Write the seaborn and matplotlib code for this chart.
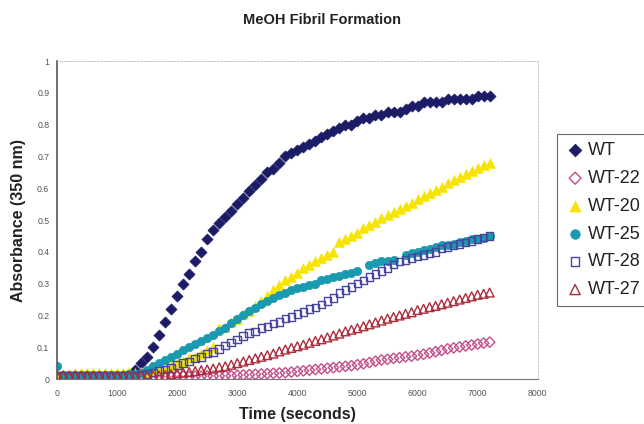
import matplotlib
matplotlib.use("Agg")
import matplotlib.pyplot as plt
import numpy as np
import pandas as pd
import seaborn as sns

# sampling times (s), one reading every 100 s
time = [0, 100, 200, 300, 400, 500, 600, 700, 800, 900,
        1000, 1100, 1200, 1300, 1400, 1500, 1600, 1700, 1800, 1900,
        2000, 2100, 2200, 2300, 2400, 2500, 2600, 2700, 2800, 2900,
        3000, 3100, 3200, 3300, 3400, 3500, 3600, 3700, 3800, 3900,
        4000, 4100, 4200, 4300, 4400, 4500, 4600, 4700, 4800, 4900,
        5000, 5100, 5200, 5300, 5400, 5500, 5600, 5700, 5800, 5900,
        6000, 6100, 6200, 6300, 6400, 6500, 6600, 6700, 6800, 6900,
        7000, 7100, 7200]

wt = [0.010, 0.006, 0.004, 0.005, 0.004, 0.003, 0.005, 0.004, 0.005, 0.006,
      0.007, 0.010, 0.015, 0.030, 0.050, 0.070, 0.100, 0.140, 0.180, 0.220,
      0.260, 0.300, 0.330, 0.370, 0.400, 0.440, 0.470, 0.490, 0.510, 0.530,
      0.550, 0.570, 0.590, 0.610, 0.630, 0.650, 0.660, 0.680, 0.700, 0.710,
      0.720, 0.730, 0.740, 0.750, 0.760, 0.770, 0.780, 0.790, 0.800, 0.800,
      0.810, 0.820, 0.820, 0.830, 0.830, 0.840, 0.840, 0.840, 0.850, 0.860,
      0.860, 0.870, 0.870, 0.870, 0.870, 0.880, 0.880, 0.880, 0.880, 0.880,
      0.890, 0.890, 0.890]

wt22 = [0.008, 0.007, 0.006, 0.007, 0.006, 0.005, 0.006, 0.007, 0.006, 0.005,
        0.006, 0.007, 0.006, 0.006, 0.007, 0.006, 0.007, 0.008, 0.007, 0.008,
        0.008, 0.009, 0.008, 0.009, 0.009, 0.010, 0.009, 0.010, 0.010, 0.010,
        0.012, 0.013, 0.014, 0.015, 0.016, 0.017, 0.018, 0.019, 0.020, 0.022,
        0.024, 0.026, 0.028, 0.030, 0.032, 0.034, 0.036, 0.038, 0.040, 0.042,
        0.045, 0.048, 0.052, 0.056, 0.060, 0.062, 0.065, 0.067, 0.070, 0.072,
        0.075, 0.078, 0.082, 0.086, 0.090, 0.095, 0.098, 0.101, 0.104, 0.107,
        0.110, 0.113, 0.116]

wt20 = [0.015, 0.016, 0.017, 0.018, 0.018, 0.019, 0.018, 0.019, 0.020, 0.019,
        0.020, 0.020, 0.021, 0.020, 0.021, 0.022, 0.025, 0.030, 0.035, 0.045,
        0.050, 0.055, 0.065, 0.070, 0.080, 0.090, 0.100, 0.160, 0.165, 0.180,
        0.190, 0.205, 0.215, 0.230, 0.245, 0.260, 0.280, 0.295, 0.310, 0.320,
        0.335, 0.350, 0.360, 0.370, 0.380, 0.390, 0.400, 0.430, 0.440, 0.450,
        0.460, 0.475, 0.485, 0.495, 0.505, 0.515, 0.525, 0.535, 0.545, 0.555,
        0.565, 0.575, 0.585, 0.595, 0.605, 0.615, 0.625, 0.635, 0.645, 0.655,
        0.665, 0.672, 0.680]

wt25 = [0.040, 0.012, 0.013, 0.012, 0.014, 0.013, 0.012, 0.013, 0.014, 0.013,
        0.014, 0.014, 0.015, 0.016, 0.020, 0.030, 0.040, 0.050, 0.060, 0.070,
        0.080, 0.090, 0.100, 0.110, 0.120, 0.130, 0.140, 0.150, 0.160, 0.175,
        0.190, 0.200, 0.215, 0.225, 0.235, 0.245, 0.255, 0.265, 0.270, 0.280,
        0.285, 0.290, 0.295, 0.300, 0.310, 0.315, 0.320, 0.325, 0.330, 0.335,
        0.340, np.nan, 0.360, 0.365, 0.370, 0.370, 0.375, np.nan, 0.390, 0.395,
        0.400, 0.405, 0.410, 0.415, 0.420, 0.420, 0.425, 0.430, 0.435, 0.440,
        0.440, 0.445, 0.450]

wt28 = [0.010, 0.009, 0.010, 0.011, 0.010, 0.009, 0.010, 0.011, 0.010, 0.010,
        0.011, 0.010, 0.010, 0.011, 0.012, 0.015, 0.020, 0.025, 0.030, 0.035,
        0.045, 0.050, 0.055, 0.065, 0.070, 0.080, 0.085, 0.095, 0.105, 0.115,
        0.125, 0.135, 0.145, 0.150, 0.160, 0.165, 0.175, 0.180, 0.190, 0.195,
        0.205, 0.210, 0.220, 0.225, 0.235, 0.245, 0.255, 0.270, 0.280, 0.290,
        0.300, 0.310, 0.320, 0.330, 0.340, 0.350, 0.360, 0.370, 0.375, 0.380,
        0.385, 0.390, 0.395, 0.400, 0.410, 0.415, 0.420, 0.425, 0.430, 0.435,
        0.440, 0.445, 0.450]

wt27 = [0.012, 0.011, 0.010, 0.011, 0.010, 0.011, 0.010, 0.010, 0.011, 0.010,
        0.010, 0.011, 0.010, 0.010, 0.011, 0.010, 0.011, 0.011, 0.012, 0.015,
        0.018, 0.020, 0.022, 0.025, 0.028, 0.030, 0.033, 0.037, 0.040, 0.045,
        0.050, 0.055, 0.060, 0.065, 0.070, 0.075, 0.080, 0.087, 0.093, 0.098,
        0.103, 0.108, 0.114, 0.120, 0.125, 0.131, 0.137, 0.143, 0.150, 0.155,
        0.160, 0.166, 0.172, 0.178, 0.184, 0.190, 0.195, 0.200, 0.205, 0.210,
        0.217, 0.221, 0.226, 0.230, 0.235, 0.240, 0.245, 0.250, 0.255, 0.260,
        0.265, 0.268, 0.272]

series = ["WT", "WT-22", "WT-20", "WT-25", "WT-28", "WT-27"]
values = [wt, wt22, wt20, wt25, wt28, wt27]
colors = ["#1c1c66", "#c24f8a", "#f7e400", "#1a9aae", "#4646a0", "#ad2c3c"]
markers = ["D", "D", "^", "o", "s", "^"]
filled = [True, False, True, True, False, False]
sizes = [32, 28, 48, 36, 30, 40]

df = pd.DataFrame({"time": time})
for name, v in zip(series, values):
    df[name] = v

sns.set_style("white")
plt.rcParams["font.family"] = ["Liberation Sans", "DejaVu Sans"]

fig = plt.figure(figsize=(6.44, 4.24), dpi=100)
ax = fig.add_axes([0.0885, 0.106, 0.7465, 0.75])

for name, c, m, f, s in zip(series, colors, markers, filled, sizes):
    if f:
        sns.scatterplot(data=df, x="time", y=name, ax=ax, marker=m, s=s,
                        color=c, edgecolor=c, linewidth=0.5, label=name)
    else:
        sns.scatterplot(data=df, x="time", y=name, ax=ax, marker=m, s=s,
                        facecolors="none", edgecolor=c, linewidth=1.0, label=name)

ax.set_xlim(0, 8000)
ax.set_ylim(0, 1)
ax.set_xticks(range(0, 8001, 1000))
ax.set_yticks([i / 10 for i in range(11)])
ax.set_yticklabels(["0"] + [f"{i / 10:.1f}" for i in range(1, 10)] + ["1"])
ax.tick_params(axis="both", labelsize=6.3, labelcolor="#555555", length=2.5,
               width=0.7, color="#555555", direction="out", pad=3)
ax.tick_params(axis="x", pad=5)

for side in ["top", "right"]:
    ax.spines[side].set_linestyle((0, (2, 2)))
    ax.spines[side].set_color("#bbbbbb")
    ax.spines[side].set_linewidth(0.6)
ax.spines["left"].set_color("#555555")
ax.spines["left"].set_linewidth(1.2)
ax.spines["bottom"].set_color("#777777")
ax.spines["bottom"].set_linewidth(0.8)

ax.set_xlabel("Time (seconds)", fontsize=11.5, fontweight="bold", color="#222222", labelpad=6)
ax.set_ylabel("Absorbance (350 nm)", fontsize=11.5, fontweight="bold", color="#222222", labelpad=8)
fig.text(0.5, 0.952, "MeOH Fibril Formation", ha="center", va="center",
         fontsize=10.5, fontweight="bold", color="#222222")

leg = ax.legend(loc="upper left", bbox_to_anchor=(0.865, 0.684), bbox_transform=fig.transFigure,
                borderaxespad=0, frameon=True, fancybox=False, fontsize=13, handletextpad=0.15,
                borderpad=0.45, labelspacing=0.6, handlelength=1.1, markerscale=1.15)
leg.get_frame().set_edgecolor("#444444")
leg.get_frame().set_linewidth(0.8)
for t in leg.get_texts():
    t.set_color("#222222")

fig.savefig("out.png", dpi=100)
